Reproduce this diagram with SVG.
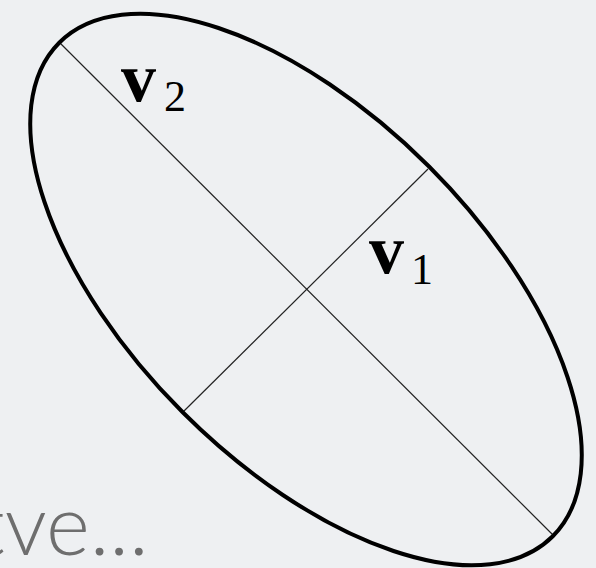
<svg xmlns="http://www.w3.org/2000/svg" width="596" height="568" viewBox="0 0 596 568">
<style>
.axis{stroke:#222;stroke-width:1.2;fill:none}
.ell{stroke:#000;stroke-width:4;fill:none}
.vb{font-family:"Liberation Serif","DejaVu Serif",serif;font-weight:bold;fill:#000}
.sub{font-family:"Liberation Serif","DejaVu Serif",serif;fill:#000}
.cap{font-family:Lato,"Open Sans",sans-serif;font-weight:300;fill:#6e6e6e}
</style>
<rect width="596" height="568" fill="#eef0f2"/>
<text class="cap" x="-24" y="555" font-size="84">tve...</text>
<g id="connectors">
<line class="axis" x1="60" y1="43" x2="553" y2="535"/>
<line class="axis" x1="428" y1="169" x2="183" y2="412"/>
</g>
<g id="ellipse">
<ellipse class="ell" cx="306" cy="289.5" rx="349" ry="174" transform="rotate(45 306 289.5)"/>
</g>
<g id="v2">
<text class="vb" x="121" y="101" font-size="70">v</text>
<text class="sub" x="164" y="111" font-size="44">2</text>
</g>
<g id="v1">
<text class="vb" x="369" y="273" font-size="70">v</text>
<text class="sub" x="411" y="284" font-size="44">1</text>
</g>
</svg>
